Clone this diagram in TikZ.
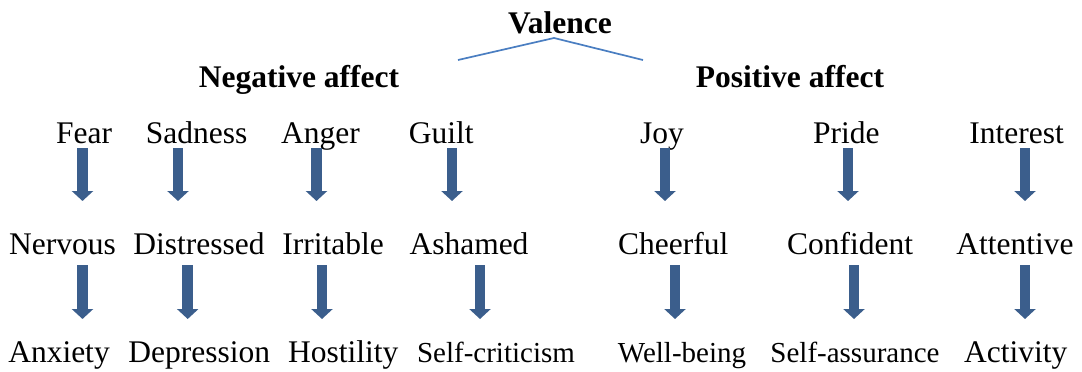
\documentclass[tikz,border=0pt]{standalone}
\usepackage{fontspec}
\setmainfont{Liberation Serif}
\usetikzlibrary{arrows.meta}
\definecolor{arrowblue}{RGB}{59,94,140}
\definecolor{linkblue}{RGB}{74,126,193}
\begin{document}
\begin{tikzpicture}[x=1pt,y=-1pt,
  word/.style={anchor=base,inner sep=0pt,font=\fontsize{31.5}{36}\selectfont},
  smallword/.style={anchor=base,inner sep=0pt,font=\fontsize{29}{34}\selectfont},
  heading/.style={anchor=base,inner sep=0pt,font=\fontsize{31.5}{36}\selectfont\bfseries},
  blk/.style={draw=arrowblue,line width=10.5pt,-{Triangle[width=21pt,length=10pt]}},
  link/.style={draw=linkblue,line width=1.7pt}]
\useasboundingbox (0,0) rectangle (1082,372);

% headings
\node[heading] (valence) at (560,33) {Valence};
\node[heading] (neg) at (299,87) {Negative affect};
\node[heading] (pos) at (790,87) {Positive affect};

% branch lines under the top heading
\coordinate (vapex) at (554,38);
\coordinate (vleft) at (458,60);
\coordinate (vright) at (643,60);
\draw[link] (vleft) -- (vapex) -- (vright);

% discrete emotions
\node[word] (fear) at (84,143) {Fear};
\node[word] (sadness) at (196.7,143) {Sadness};
\node[word] (anger) at (320.5,143) {Anger};
\node[word] (guilt) at (441.3,143) {Guilt};
\node[word] (joy) at (662,143) {Joy};
\node[word] (pride) at (846.3,143) {Pride};
\node[word] (interest) at (1016.7,143) {Interest};

% adjectives
\node[word] (nervous) at (62.5,254) {Nervous};
\node[word] (distressed) at (199,254) {Distressed};
\node[word] (irritable) at (333,254) {Irritable};
\node[word] (ashamed) at (469,254) {Ashamed};
\node[word] (cheerful) at (673.3,254) {Cheerful};
\node[word] (confident) at (850,254) {Confident};
\node[word] (attentive) at (1015,254) {Attentive};

% scales
\node[word] (anxiety) at (59,362) {Anxiety};
\node[word] (depression) at (199.2,362) {Depression};
\node[word] (hostility) at (343.3,362) {Hostility};
\node[smallword] (selfcrit) at (496,362) {Self-criticism};
\node[smallword] (wellbeing) at (682,362) {Well-being};
\node[smallword] (selfassur) at (855,362) {Self-assurance};
\node[word] (activity) at (1015.8,362) {Activity};

% block arrows, emotion -> adjective
\draw[blk] ([xshift=-1.5pt,yshift=-5pt]fear.base) -- ++(0,53);
\draw[blk] ([xshift=-18.7pt,yshift=-5pt]sadness.base) -- ++(0,53);
\draw[blk] ([xshift=-4pt,yshift=-5pt]anger.base) -- ++(0,53);
\draw[blk] ([xshift=10.7pt,yshift=-5pt]guilt.base) -- ++(0,53);
\draw[blk] ([xshift=3pt,yshift=-5pt]joy.base) -- ++(0,53);
\draw[blk] ([xshift=1.7pt,yshift=-5pt]pride.base) -- ++(0,53);
\draw[blk] ([xshift=8.3pt,yshift=-5pt]interest.base) -- ++(0,53);

% block arrows, adjective -> scale
\draw[blk] ([xshift=20pt,yshift=-11pt]nervous.base) -- ++(0,54);
\draw[blk] ([xshift=-11.3pt,yshift=-11pt]distressed.base) -- ++(0,54);
\draw[blk] ([xshift=-11pt,yshift=-11pt]irritable.base) -- ++(0,54);
\draw[blk] ([xshift=11pt,yshift=-11pt]ashamed.base) -- ++(0,54);
\draw[blk] ([xshift=1.7pt,yshift=-11pt]cheerful.base) -- ++(0,54);
\draw[blk] ([xshift=4pt,yshift=-11pt]confident.base) -- ++(0,54);
\draw[blk] ([xshift=10pt,yshift=-11pt]attentive.base) -- ++(0,54);
\end{tikzpicture}
\end{document}
